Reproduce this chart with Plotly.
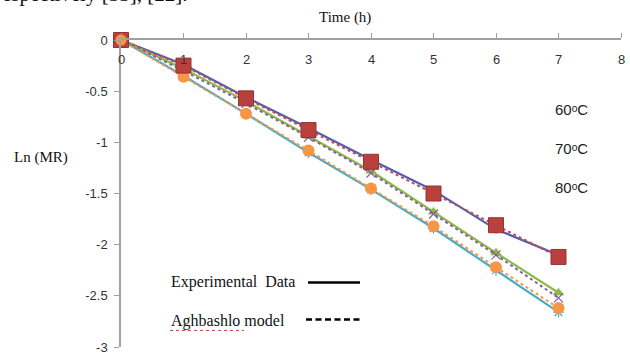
import plotly.graph_objects as go

time_h = [0, 1, 2, 3, 4, 5, 6, 7]
exp_60 = [0, -0.24, -0.56, -0.86, -1.17, -1.47, -1.85, -2.10]
mod_60 = [0, -0.25, -0.57, -0.88, -1.19, -1.50, -1.81, -2.12]
exp_70 = [0, -0.28, -0.60, -0.94, -1.28, -1.68, -2.08, -2.47]
mod_70 = [0, -0.30, -0.62, -0.95, -1.30, -1.70, -2.10, -2.52]
exp_80 = [0, -0.35, -0.72, -1.10, -1.46, -1.84, -2.25, -2.66]
mod_80 = [0, -0.36, -0.72, -1.08, -1.45, -1.82, -2.22, -2.62]
x_ticks = [0, 1, 2, 3, 4, 5, 6, 7, 8]
y_ticks = [0, -0.5, -1, -1.5, -2, -2.5, -3]
y_tick_text = ["0", "-0.5", "-1", "-1.5", "-2", "-2.5", "-3"]
temp_labels = ["60ᵒC", "70ᵒC", "80ᵒC"]

fig = go.Figure()
serif = "Liberation Serif"
sans = "Liberation Sans"

def add(y, color, width, dash, msym, msize, mcolor, mline=None):
    fig.add_trace(go.Scatter(x=time_h, y=y, mode="lines+markers", cliponaxis=False,
                             line=dict(color=color, width=width, dash=dash),
                             marker=dict(symbol=msym, size=msize, color=mcolor,
                                         line=mline or dict(width=0))))

add(exp_60, "#4F5FB8", 2.2, "solid", "diamond", 7, "#4F5FB8")
add(exp_70, "#8DB843", 2.2, "solid", "triangle-up", 10, "#8DB843")
add(exp_80, "#4BACC6", 2.2, "solid", "asterisk-open", 9, "#4BACC6", dict(width=1.2, color="#4BACC6"))
add(mod_70, "#8064A2", 2, "dot", "x-thin-open", 9, "#8064A2", dict(width=1.2, color="#8064A2"))
add(mod_80, "#F79646", 2, "dot", "circle", 12, "#F79646")
add(mod_60, "#C0504D", 2, "dot", "square", 15, "#B8413D", dict(color="#963330", width=1))
fig.add_trace(go.Scatter(x=time_h[:1], y=mod_80[:1], mode="markers", cliponaxis=False,
                         marker=dict(symbol="circle", size=11, color="#F79646")))

fig.update_xaxes(range=[0, 8], side="top", tickvals=x_ticks, ticks="outside",
                 ticklen=5, tickcolor="#A0A0A0", showticklabels=False,
                 showline=True, linecolor="#A0A0A0", linewidth=1.5, showgrid=False,
                 zeroline=False)
fig.update_yaxes(range=[-3, 0], tickvals=y_ticks, ticktext=y_tick_text,
                 ticks="outside", ticklen=5, tickcolor="#A0A0A0", ticklabelstandoff=4,
                 showline=True, linecolor="#A0A0A0", linewidth=1.5, showgrid=False,
                 zeroline=False, tickfont=dict(family=sans, size=13, color="#333"))

W, H = 630, 364
L, R, T, B = 121, 9, 40, 10
pw, ph = W - L - R, H - T - B
def px(x):
    return (x - L) / pw
def py(y):
    return 1 - (y - T) / ph

ann = []
for v in x_ticks:
    ann.append(dict(text=str(v), x=v, xref="x", y=py(60), yref="paper", xanchor="center",
                    yanchor="middle", showarrow=False,
                    font=dict(family=sans, size=13, color="#333")))
for text, x, y, s in [("Time (h)", 317, 17, 15), ("Ln (MR)", 12, 160, 15),
                      ("Experimental  Data", 169, 288, 16), ("Aghbashlo model", 169, 327, 16)]:
    ann.append(dict(text=text, x=px(x), y=py(y), xref="paper", yref="paper",
                    xanchor="left", yanchor="middle", showarrow=False,
                    font=dict(family=serif, size=s, color="#111")))
for i, t in enumerate(temp_labels):
    ann.append(dict(text=t, x=px(553), y=py(111 + 40 * i), xref="paper", yref="paper",
                    xanchor="left", yanchor="middle", showarrow=False,
                    font=dict(family=sans, size=15, color="#222")))
ann.append(dict(text="espectively [33], [22].", x=px(0), y=py(-7), xref="paper", yref="paper",
                xanchor="left", yanchor="middle", showarrow=False,
                font=dict(family=serif, size=21, color="#111")))

shapes = [
    dict(type="line", xref="paper", yref="paper", x0=px(308), x1=px(360), y0=py(288), y1=py(288),
         line=dict(color="black", width=2.5)),
    dict(type="line", xref="paper", yref="paper", x0=px(306), x1=px(362), y0=py(326), y1=py(326),
         line=dict(color="black", width=2.5, dash="6px,3.5px")),
    dict(type="line", xref="paper", yref="paper", x0=px(170), x1=px(244), y0=py(337), y1=py(337),
         line=dict(color="#E03030", width=1, dash="dot")),
]

fig.update_layout(width=W, height=H, margin=dict(l=L, r=R, t=T, b=B),
                  paper_bgcolor="white", plot_bgcolor="white", showlegend=False,
                  annotations=ann, shapes=shapes)

fig.write_html("out.html")
